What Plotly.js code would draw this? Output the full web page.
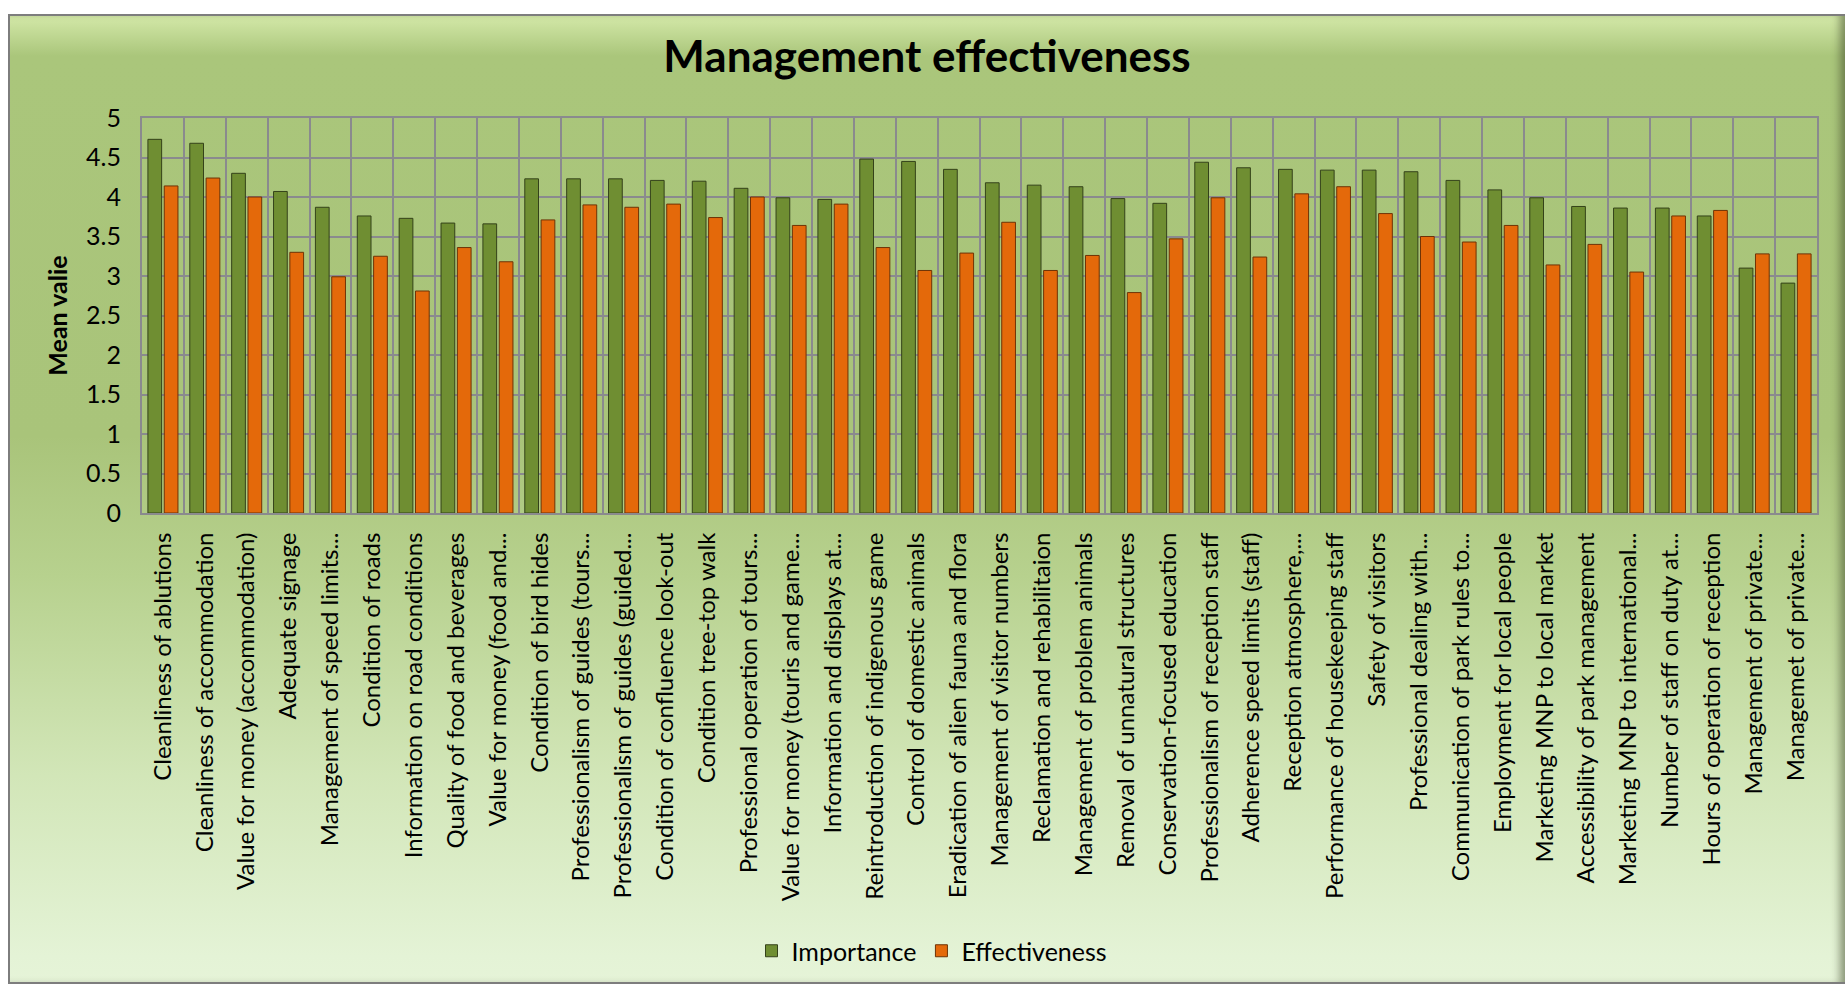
<!DOCTYPE html>
<html>
<head>
<meta charset="utf-8">
<script src="https://cdn.plot.ly/plotly-3.0.1.min.js"></script>
<style>
  html, body { margin: 0; padding: 0; width: 1845px; height: 989px; overflow: hidden; background: #ffffff; }
  #frame {
    position: absolute; left: 8px; top: 14px; width: 1840px; height: 970px;
    border: 2px solid #7d7d7d; box-sizing: border-box;
    background: linear-gradient(to bottom, #d3e8a8 0px, #aac67b 40px, #a9c47a 420px, #b7d18e 560px, #d2e6b8 760px, #e4f3d6 940px, #e6f4d8 970px);
    box-shadow: inset -10px 0 8px -4px rgba(60,70,40,0.55);
  }
  #chart { position: absolute; left: 0; top: 0; width: 1845px; height: 989px; }
</style>
</head>
<body>
<div id="frame"></div>
<div id="chart"></div>
<script>
const categories = [
  "Cleanliness of ablutions",
  "Cleanliness of accommodation",
  "Value for money (accommodation)",
  "Adequate signage",
  "Management of speed limits...",
  "Condition of roads",
  "Information on road conditions",
  "Quality of food and beverages",
  "Value for money (food and...",
  "Condition of bird hides",
  "Professionalism of guides (tours...",
  "Professionalism of guides (guided...",
  "Condition of confluence look-out",
  "Condition tree-top walk",
  "Professional operation of tours...",
  "Value for money (touris and game...",
  "Information and displays at...",
  "Reintroduction of indigenous game",
  "Control of domestic animals",
  "Eradication of alien fauna and flora",
  "Management of visitor numbers",
  "Reclamation and rehabilitaion",
  "Management of problem animals",
  "Removal of unnatural structures",
  "Conservation-focused education",
  "Professionalism of reception staff",
  "Adherence speed limits (staff)",
  "Reception atmosphere,...",
  "Performance of housekeeping staff",
  "Safety of visitors",
  "Professional dealing with...",
  "Communication of park rules to...",
  "Employment for local people",
  "Marketing MNP to local market",
  "Accessibility of park management",
  "Marketing MNP to international...",
  "Number of staff on duty at...",
  "Hours of operation of reception",
  "Management of private...",
  "Managemet of private..."
];

const importance = [
  4.73, 4.68, 4.30, 4.07, 3.87, 3.76, 3.73, 3.67, 3.66, 4.23,
  4.23, 4.23, 4.21, 4.20, 4.11, 3.99, 3.97, 4.48, 4.45, 4.35,
  4.18, 4.15, 4.13, 3.98, 3.92, 4.44, 4.37, 4.35, 4.34, 4.34,
  4.32, 4.21, 4.09, 3.99, 3.88, 3.86, 3.86, 3.76, 3.10, 2.91
];

const effectiveness = [
  4.14, 4.24, 4.00, 3.30, 2.99, 3.25, 2.81, 3.36, 3.18, 3.71,
  3.90, 3.87, 3.91, 3.74, 4.00, 3.64, 3.91, 3.36, 3.07, 3.29,
  3.68, 3.07, 3.26, 2.79, 3.47, 3.99, 3.24, 4.04, 4.13, 3.79,
  3.50, 3.43, 3.64, 3.14, 3.40, 3.05, 3.76, 3.83, 3.28, 3.28
];

const yTickValues = [0, 0.5, 1, 1.5, 2, 2.5, 3, 3.5, 4, 4.5, 5];
const yTickLabels = ["0", "0.5", "1", "1.5", "2", "2.5", "3", "3.5", "4", "4.5", "5"];

const FONT = "Lato, 'Open Sans', 'DejaVu Sans', sans-serif";

const traces = [
  {
    type: "bar", name: "Importance", x: categories, y: importance,
    marker: { color: "#6f8e32", line: { color: "#34421a", width: 1 } }
  },
  {
    type: "bar", name: "Effectiveness", x: categories, y: effectiveness,
    marker: { color: "#e4690a", line: { color: "#6e3306", width: 1 } }
  }
];

const layout = {
  width: 1845, height: 989,
  paper_bgcolor: "rgba(0,0,0,0)",
  plot_bgcolor: "rgba(0,0,0,0)",
  margin: { l: 142, r: 28, t: 118, b: 476, autoexpand: false },
  font: { family: FONT, color: "#000000" },
  title: {
    text: "<b>Management effectiveness</b>",
    font: { family: FONT, size: 44, color: "#000000" },
    x: 927 / 1845, xanchor: "center", xref: "container",
    y: 1 - 57 / 989, yanchor: "middle", yref: "container"
  },
  barmode: "group",
  bargap: 0.22,
  bargroupgap: 0.16,
  xaxis: {
    type: "category",
    tickangle: -90,
    tickson: "boundaries",
    ticks: "",
    showgrid: true, gridcolor: "#8a8a8e", gridwidth: 2,
    showline: true, mirror: true, linecolor: "#8a8a8e", linewidth: 2,
    tickfont: { family: FONT, size: 24, color: "#000000" },
    ticklabelstandoff: 8,
    automargin: false
  },
  yaxis: {
    range: [0, 5],
    tickvals: yTickValues, ticktext: yTickLabels,
    showgrid: true, gridcolor: "#8a8a8e", gridwidth: 2,
    zeroline: false,
    showline: true, mirror: true, linecolor: "#8a8a8e", linewidth: 2,
    ticks: "",
    tickfont: { family: FONT, size: 25, color: "#000000" },
    ticklabelstandoff: 14,
    title: { text: "<b>Mean valie</b>", font: { family: FONT, size: 25, color: "#000000" }, standoff: 11 },
    automargin: false
  },
  showlegend: true,
  legend: {
    orientation: "h",
    xref: "container", yref: "container",
    x: 932 / 1845, xanchor: "center",
    y: 1 - 951 / 989, yanchor: "middle",
    font: { family: FONT, size: 25, color: "#000000" },
    bgcolor: "rgba(0,0,0,0)",
    itemwidth: 30,
    traceorder: "normal"
  }
};

Plotly.newPlot("chart", traces, layout, { displayModeBar: false, staticPlot: true });
</script>
</body>
</html>
